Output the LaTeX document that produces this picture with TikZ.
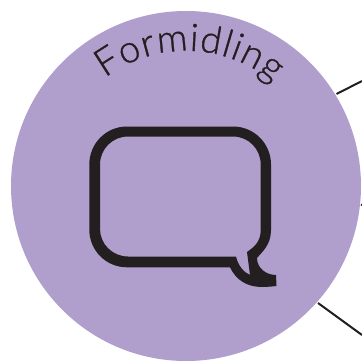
\documentclass[tikz,border=0pt]{standalone}
\usepackage{fontspec}
\setmainfont{Lato Light}[RawFeature={embolden=0.9}]
\usetikzlibrary{decorations.text}
\definecolor{disc}{HTML}{B09FCC}
\definecolor{ink}{HTML}{231F20}
\tikzset{
  x=1pt,y=1pt,
  lead/.style={draw=ink,line width=2pt},
  bubble/.style={fill=ink,even odd rule,draw=none}
}
\begin{document}
\begin{tikzpicture}
\useasboundingbox (0,0) rectangle (362,360);
\coordinate (c1) at (336.5,266);
\coordinate (e1) at (362,279);
\coordinate (c2) at (318,57);
\coordinate (e2) at (362,25);
\coordinate (c3) at (361,155.5);
\coordinate (e3) at (362,155);
\draw[lead] (c1) -- (e1);
\draw[lead] (c2) -- (e2);
\draw[lead] (c3) -- (e3);
\fill[disc] (186,174) circle (175);
\path[bubble]
  % outer contour
  (271,130) -- (271,195.5) .. controls (271,216.5) and (254,233.5) .. (233,233.5)
  -- (127,233.5) .. controls (106,233.5) and (89.3,216.5) .. (89.3,195.5)
  -- (89.3,130.5) .. controls (89.3,109.5) and (106,92.7) .. (127,92.7)
  -- (230,92.7) .. controls (236,80) and (247,73) .. (262,73)
  .. controls (267,73) and (272,73.5) .. (276.5,74)
  -- (276,85) .. controls (266,85) and (257,92) .. (257,102)
  .. controls (262,108) and (271,115) .. (271,130) -- cycle
  % inner contour
  (260.7,130) .. controls (260.7,118) and (254,113) .. (247,108)
  -- (250,85) .. controls (243,88) and (238,95) .. (236,103.5)
  -- (128,103.5) .. controls (112.5,103.5) and (100,116) .. (100,131)
  -- (100,195.5) .. controls (100,211) and (112.5,223.5) .. (128,223.5)
  -- (233,223.5) .. controls (248.5,223.5) and (260.7,211) .. (260.7,195.5) -- cycle;
\path[decorate,decoration={text along path,text align=fit to path,
  text={|\fontsize{38}{38}\selectfont\color{ink}|Formidling}}]
  (105,282) arc[start angle=127,end angle=50,radius=135];
\end{tikzpicture}
\end{document}
